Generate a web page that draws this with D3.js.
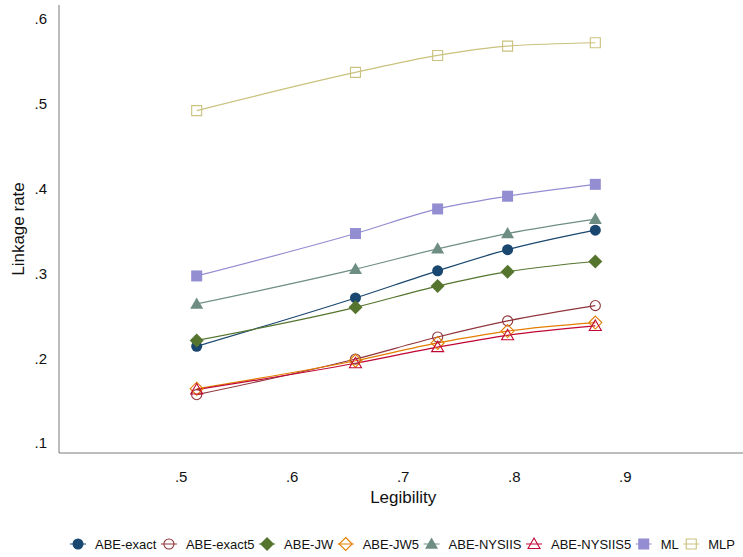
<!DOCTYPE html>
<html>
<head>
<meta charset="utf-8">
<script src="https://cdn.jsdelivr.net/npm/d3@7"></script>
<style>
  body { margin: 0; background: #fff; }
  svg { font-family: "Liberation Sans", Arial, Helvetica, sans-serif; display: block; }
</style>
</head>
<body>
<svg id="chart" width="743" height="557"></svg>
<script>
// legibility values on the x axis
const legibility = [0.514, 0.657, 0.731, 0.794, 0.873];

// linkage rates by method
const abeExact   = [0.214, 0.271, 0.303, 0.328, 0.351];
const abeExact5  = [0.157, 0.199, 0.225, 0.244, 0.262];
const abeJW      = [0.221, 0.260, 0.285, 0.302, 0.314];
const abeJW5     = [0.164, 0.197, 0.218, 0.232, 0.242];
const abeNysiis  = [0.264, 0.305, 0.329, 0.347, 0.364];
const abeNysiis5 = [0.163, 0.194, 0.213, 0.227, 0.238];
const ml         = [0.297, 0.347, 0.376, 0.391, 0.405];
const mlp        = [0.492, 0.537, 0.557, 0.568, 0.572];

const xTicks = [0.5, 0.6, 0.7, 0.8, 0.9];
const yTicks = [0.1, 0.2, 0.3, 0.4, 0.5, 0.6];

// series table built from the arrays above
const series = [
  { name: "ABE-exact",   values: abeExact,   color: "#1a476f", shape: "circle",   filled: true },
  { name: "ABE-exact5",  values: abeExact5,  color: "#90353b", shape: "circle",   filled: false },
  { name: "ABE-JW",      values: abeJW,      color: "#55752f", shape: "diamond",  filled: true },
  { name: "ABE-JW5",     values: abeJW5,     color: "#e37e00", shape: "diamond",  filled: false },
  { name: "ABE-NYSIIS",  values: abeNysiis,  color: "#6e8e84", shape: "triangle", filled: true },
  { name: "ABE-NYSIIS5", values: abeNysiis5, color: "#c10534", shape: "triangle", filled: false },
  { name: "ML",          values: ml,         color: "#938dd2", shape: "square",   filled: true },
  { name: "MLP",         values: mlp,        color: "#cac27e", shape: "square",   filled: false }
];

const svg = d3.select("#chart");

// plot region
const plotBox = { left: 59, right: 743, top: 5, bottom: 453 };

const xScale = d3.scaleLinear().domain([0.39, 1.006]).range([plotBox.left, plotBox.right]);
const yScale = d3.scaleLinear().domain([0.0882, 0.6165]).range([plotBox.bottom, plotBox.top]);

// marker paths centred on 0,0
function markerPath(shape) {
  if (shape === "circle") return d3.symbol(d3.symbolCircle, 95)();
  if (shape === "square") return "M-5.5,-5.5H5.5V5.5H-5.5Z";
  if (shape === "diamond") return "M0,-7L7,0L0,7L-7,0Z";
  // triangle pointing up
  return "M0,-6.5L6.5,4.8H-6.5Z";
}
function hollowPath(shape) {
  if (shape === "circle") return d3.symbol(d3.symbolCircle, 80)();
  if (shape === "square") return "M-5,-5H5V5H-5Z";
  if (shape === "diamond") return "M0,-6.5L6.5,0L0,6.5L-6.5,0Z";
  return "M0,-6L6,4.5H-6Z";
}

// axes lines
svg.append("line")
  .attr("x1", plotBox.left).attr("x2", plotBox.left)
  .attr("y1", plotBox.top).attr("y2", plotBox.bottom)
  .attr("stroke", "#7a7a7a").attr("stroke-width", 1);
svg.append("line")
  .attr("x1", plotBox.left).attr("x2", plotBox.right)
  .attr("y1", plotBox.bottom).attr("y2", plotBox.bottom)
  .attr("stroke", "#7a7a7a").attr("stroke-width", 1);

// y tick labels
svg.append("g")
  .selectAll("text")
  .data(yTicks)
  .join("text")
  .attr("x", 47)
  .attr("y", d => yScale(d))
  .attr("dy", "0.36em")
  .attr("text-anchor", "end")
  .attr("font-size", 15)
  .attr("fill", "#111")
  .text(d => d3.format(".1f")(d).replace(/^0/, ""));

// x tick labels
svg.append("g")
  .selectAll("text")
  .data(xTicks)
  .join("text")
  .attr("x", d => xScale(d))
  .attr("y", 477)
  .attr("dy", "0.36em")
  .attr("text-anchor", "middle")
  .attr("font-size", 15)
  .attr("fill", "#111")
  .text(d => d3.format(".1f")(d).replace(/^0/, ""));

// axis titles
svg.append("text")
  .attr("x", xScale(0.7))
  .attr("y", 497)
  .attr("dy", "0.36em")
  .attr("text-anchor", "middle")
  .attr("font-size", 17)
  .attr("fill", "#111")
  .text("Legibility");

svg.append("text")
  .attr("transform", `translate(18, ${(plotBox.top + plotBox.bottom) / 2}) rotate(-90)`)
  .attr("dy", "0.36em")
  .attr("text-anchor", "middle")
  .attr("font-size", 17)
  .attr("fill", "#111")
  .text("Linkage rate");

// lines
const line = d3.line()
  .x((d, i) => xScale(legibility[i]))
  .y(d => yScale(d))
  .curve(d3.curveMonotoneX);

const plot = svg.append("g");

plot.selectAll(".series-line")
  .data(series)
  .join("path")
  .attr("class", "series-line")
  .attr("d", d => line(d.values))
  .attr("fill", "none")
  .attr("stroke", d => d.color)
  .attr("stroke-width", 1.2);

// markers
series.forEach(s => {
  plot.selectAll(null)
    .data(s.values)
    .join("path")
    .attr("transform", (d, i) => `translate(${xScale(legibility[i])},${yScale(d)})`)
    .attr("d", s.filled ? markerPath(s.shape) : hollowPath(s.shape))
    .attr("fill", s.filled ? s.color : "none")
    .attr("stroke", s.filled ? "none" : s.color)
    .attr("stroke-width", 1.1);
});

// legend, laid out left to right
const legend = svg.append("g").attr("transform", "translate(0, 544)");
let cursor = 78;
series.forEach(s => {
  const item = legend.append("g");
  // short line stub behind each key
  item.append("line")
    .attr("x1", cursor - 8).attr("x2", cursor + 8)
    .attr("y1", 0).attr("y2", 0)
    .attr("stroke", s.color).attr("stroke-width", 1);
  item.append("path")
    .attr("transform", `translate(${cursor},0)`)
    .attr("d", s.filled ? markerPath(s.shape) : hollowPath(s.shape))
    .attr("fill", s.filled ? s.color : "none")
    .attr("stroke", s.filled ? "none" : s.color)
    .attr("stroke-width", 1.1);
  const t = item.append("text")
    .attr("x", cursor + 17)
    .attr("y", 0)
    .attr("dy", "0.36em")
    .attr("font-size", 13)
    .attr("fill", "#111")
    .text(s.name);
  cursor += 17 + t.node().getComputedTextLength() + 12.5;
});
</script>
</body>
</html>
